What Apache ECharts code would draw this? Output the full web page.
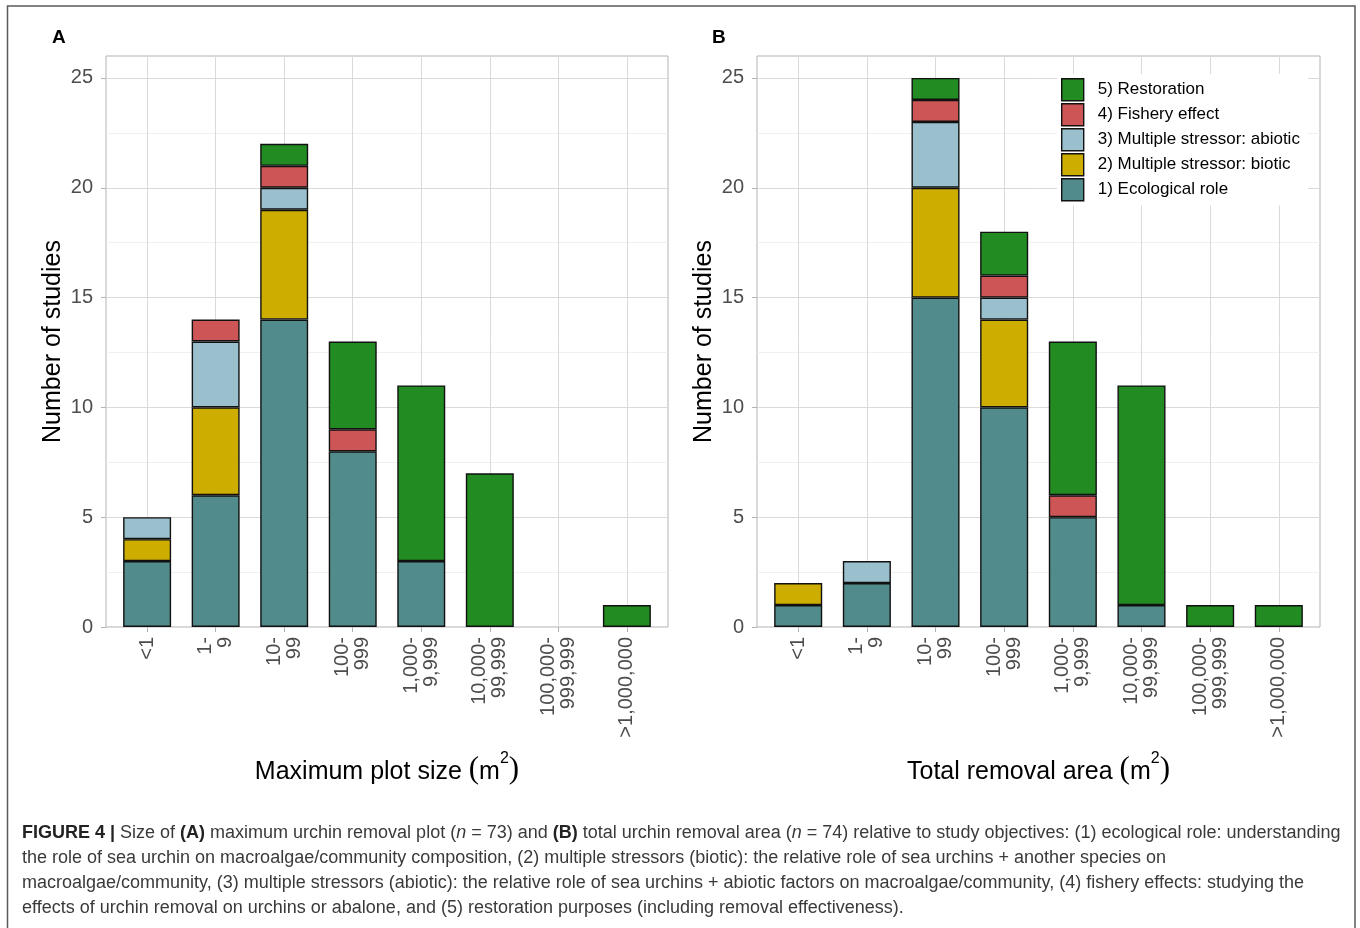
<!DOCTYPE html>
<html>
<head>
<meta charset="utf-8">
<script src="https://cdn.jsdelivr.net/npm/echarts@6/dist/echarts.min.js"></script>
<style>
html,body{margin:0;padding:0;background:#fff;}
#chart{width:1360px;height:928px;}
</style>
</head>
<body>
<div id="chart"></div>
<script>
// ---------- data ----------
const categories = ['<1', '1-\n9', '10-\n99', '100-\n999', '1,000-\n9,999', '10,000-\n99,999', '100,000-\n999,999', '>1,000,000'];
const seriesNames = ['1) Ecological role', '2) Multiple stressor: biotic', '3) Multiple stressor: abiotic', '4) Fishery effect', '5) Restoration'];
const seriesColors = ['#528B8B', '#CDAD00', '#9AC0CD', '#CD5555', '#228B22'];

// Panel A: maximum plot size
const ecoA        = [3, 6, 14, 8, 3, 0, 0, 0];
const bioticA     = [1, 4, 5, 0, 0, 0, 0, 0];
const abioticA    = [1, 3, 1, 0, 0, 0, 0, 0];
const fisheryA    = [0, 1, 1, 1, 0, 0, 0, 0];
const restorationA= [0, 0, 1, 4, 8, 7, 0, 1];

// Panel B: total removal area
const ecoB        = [1, 2, 15, 10, 5, 1, 0, 0];
const bioticB     = [1, 0, 5, 4, 0, 0, 0, 0];
const abioticB    = [0, 1, 3, 1, 0, 0, 0, 0];
const fisheryB    = [0, 0, 1, 1, 1, 0, 0, 0];
const restorationB= [0, 0, 1, 2, 7, 10, 1, 1];

const yTicksMax = 25;   // labelled range
const yPanelMax = 26;   // panel top
const yInterval = 5;

// ---------- layout ----------
const FONT = "'Liberation Sans', Arial, Helvetica, sans-serif";
const panels = [
  { key: 'A', left: 106, top: 56, width: 562, height: 571, xTitle: 'Maximum plot size ', data: [ecoA, bioticA, abioticA, fisheryA, restorationA] },
  { key: 'B', left: 757, top: 56, width: 563, height: 571, xTitle: 'Total removal area ', data: [ecoB, bioticB, abioticB, fisheryB, restorationB] }
];

const grid = [], xAxis = [], yAxis = [], series = [];
const GRID_MAJOR = '#dadada', GRID_MINOR = '#ececec', BORDER = '#b3b3b3', TICK_TXT = '#4d4d4d';

panels.forEach((p, pi) => {
  const base = grid.length;
  const band = p.width / (categories.length + 0.2);
  const inset = band * 0.1;
  const yTop = p.top + p.height * (1 - yTicksMax / yPanelMax);
  // frame grid
  grid.push({ left: p.left, top: p.top, width: p.width, height: p.height, show: true, borderColor: BORDER, borderWidth: 1, backgroundColor: 'transparent' });
  // y-axis grid
  grid.push({ left: p.left, top: yTop, width: p.width, height: p.top + p.height - yTop, show: false });
  // data grid
  grid.push({ left: p.left + inset, top: p.top, width: p.width - 2 * inset, height: p.height, show: false });

  // frame axes (only y name)
  xAxis.push({ gridIndex: base, type: 'value', min: 0, max: 1, show: false });
  yAxis.push({ gridIndex: base, type: 'value', min: 0, max: 1, show: true,
    axisLine: { show: false }, axisTick: { show: false }, axisLabel: { show: false }, splitLine: { show: false },
    name: 'Number of studies', nameLocation: 'middle', nameGap: 40,
    nameTextStyle: { fontSize: 25, color: '#000', fontFamily: FONT } });

  // y-axis grid
  xAxis.push({ gridIndex: base + 1, type: 'value', min: 0, max: 1, show: false });
  yAxis.push({ gridIndex: base + 1, type: 'value', min: 0, max: yTicksMax, interval: yInterval,
    axisLine: { show: false },
    axisTick: { show: true, length: 5, lineStyle: { color: BORDER, width: 1 } },
    axisLabel: { fontSize: 20, color: TICK_TXT, fontFamily: FONT, margin: 13 },
    splitLine: { show: true, lineStyle: { color: GRID_MAJOR, width: 1 } },
    minorTick: { show: false, splitNumber: 2 },
    minorSplitLine: { show: true, lineStyle: { color: GRID_MINOR, width: 0.8 } } });

  // data axes
  xAxis.push({ gridIndex: base + 2, type: 'category', data: categories, boundaryGap: true,
    axisLine: { show: false },
    axisTick: { show: true, alignWithLabel: true, length: 5, lineStyle: { color: BORDER, width: 1 } },
    axisLabel: { rotate: 90, interval: 0, fontSize: 20, lineHeight: 20, color: TICK_TXT, fontFamily: FONT, margin: 10 },
    splitLine: { show: true, alignWithLabel: true, interval: 0, lineStyle: { color: GRID_MAJOR, width: 1 } },
    name: '{t|' + p.xTitle + '}{p|(}{t|m}{s|2}{p|)}', nameLocation: 'middle', nameGap: 124,
    nameTextStyle: { fontFamily: FONT, color: '#000',
      rich: {
        t: { fontSize: 25, color: '#000', fontFamily: FONT, lineHeight: 34, verticalAlign: 'bottom' },
        p: { fontSize: 31, color: '#000', fontFamily: "'Liberation Serif', 'Times New Roman', serif", lineHeight: 34, verticalAlign: 'bottom' },
        s: { fontSize: 16, color: '#000', fontFamily: FONT, lineHeight: 34, verticalAlign: 'top' }
      } } });
  yAxis.push({ gridIndex: base + 2, type: 'value', min: 0, max: yPanelMax, show: false });

  p.data.forEach((arr, si) => {
    series.push({
      type: 'bar', name: seriesNames[si], stack: 'stack' + p.key,
      xAxisIndex: base + 2, yAxisIndex: base + 2,
      barWidth: '70%',
      data: arr.map(v => (v === 0 ? null : v)),
      itemStyle: { color: seriesColors[si], borderColor: '#111', borderWidth: 1.4 },
      emphasis: { disabled: true }
    });
  });
});

const captionLines = [
  '{b|FIGURE 4 |} Size of {b|(A)} maximum urchin removal plot ({i|n} = 73) and {b|(B)} total urchin removal area ({i|n} = 74) relative to study objectives: (1) ecological role: understanding',
  'the role of sea urchin on macroalgae/community composition, (2) multiple stressors (biotic): the relative role of sea urchins + another species on',
  'macroalgae/community, (3) multiple stressors (abiotic): the relative role of sea urchins + abiotic factors on macroalgae/community, (4) fishery effects: studying the',
  'effects of urchin removal on urchins or abalone, and (5) restoration purposes (including removal effectiveness).'
];

const CAP_SIZE = 18;
const capRich = {
  b: { fontWeight: 'bold', fontSize: CAP_SIZE, fontFamily: FONT, fill: '#222' },
  i: { fontStyle: 'italic', fontSize: CAP_SIZE, fontFamily: FONT, fill: '#3a3a3a' }
};

const graphic = [
  { type: 'rect', shape: { x: 7.5, y: 6, width: 1347.5, height: 960 }, style: { fill: 'none', stroke: '#5a5a5a', lineWidth: 1.5 }, silent: true, z: -10 },
  { type: 'text', x: 52, y: 28, style: { text: 'A', fontSize: 19, fontWeight: 'bold', fontFamily: FONT, fill: '#000' } },
  { type: 'text', x: 712, y: 28, style: { text: 'B', fontSize: 19, fontWeight: 'bold', fontFamily: FONT, fill: '#000' } }
];
captionLines.forEach((line, i) => {
  graphic.push({ type: 'text', x: 22, y: 833 + i * 25,
    style: { text: line, fontSize: CAP_SIZE, fontFamily: FONT, fill: '#3a3a3a', verticalAlign: 'middle', rich: capRich } });
});

const chart = echarts.init(document.getElementById('chart'), null, { renderer: 'canvas' });
chart.setOption({
  animation: false,
  backgroundColor: '#fff',
  textStyle: { fontFamily: FONT },
  grid, xAxis, yAxis, series, graphic,
  legend: {
    data: seriesNames.slice().reverse(),
    orient: 'vertical', left: 1057, top: 74,
    itemWidth: 22, itemHeight: 22, itemGap: 1.6,
    icon: 'rect',
    padding: [4, 8, 4, 4],
    backgroundColor: '#fff',
    selectedMode: false,
    itemStyle: { borderColor: '#111', borderWidth: 1.4 },
    textStyle: { fontSize: 17, color: '#000', fontFamily: FONT, padding: [0, 0, 0, 9] },
    z: 10
  }
});
</script>
</body>
</html>
